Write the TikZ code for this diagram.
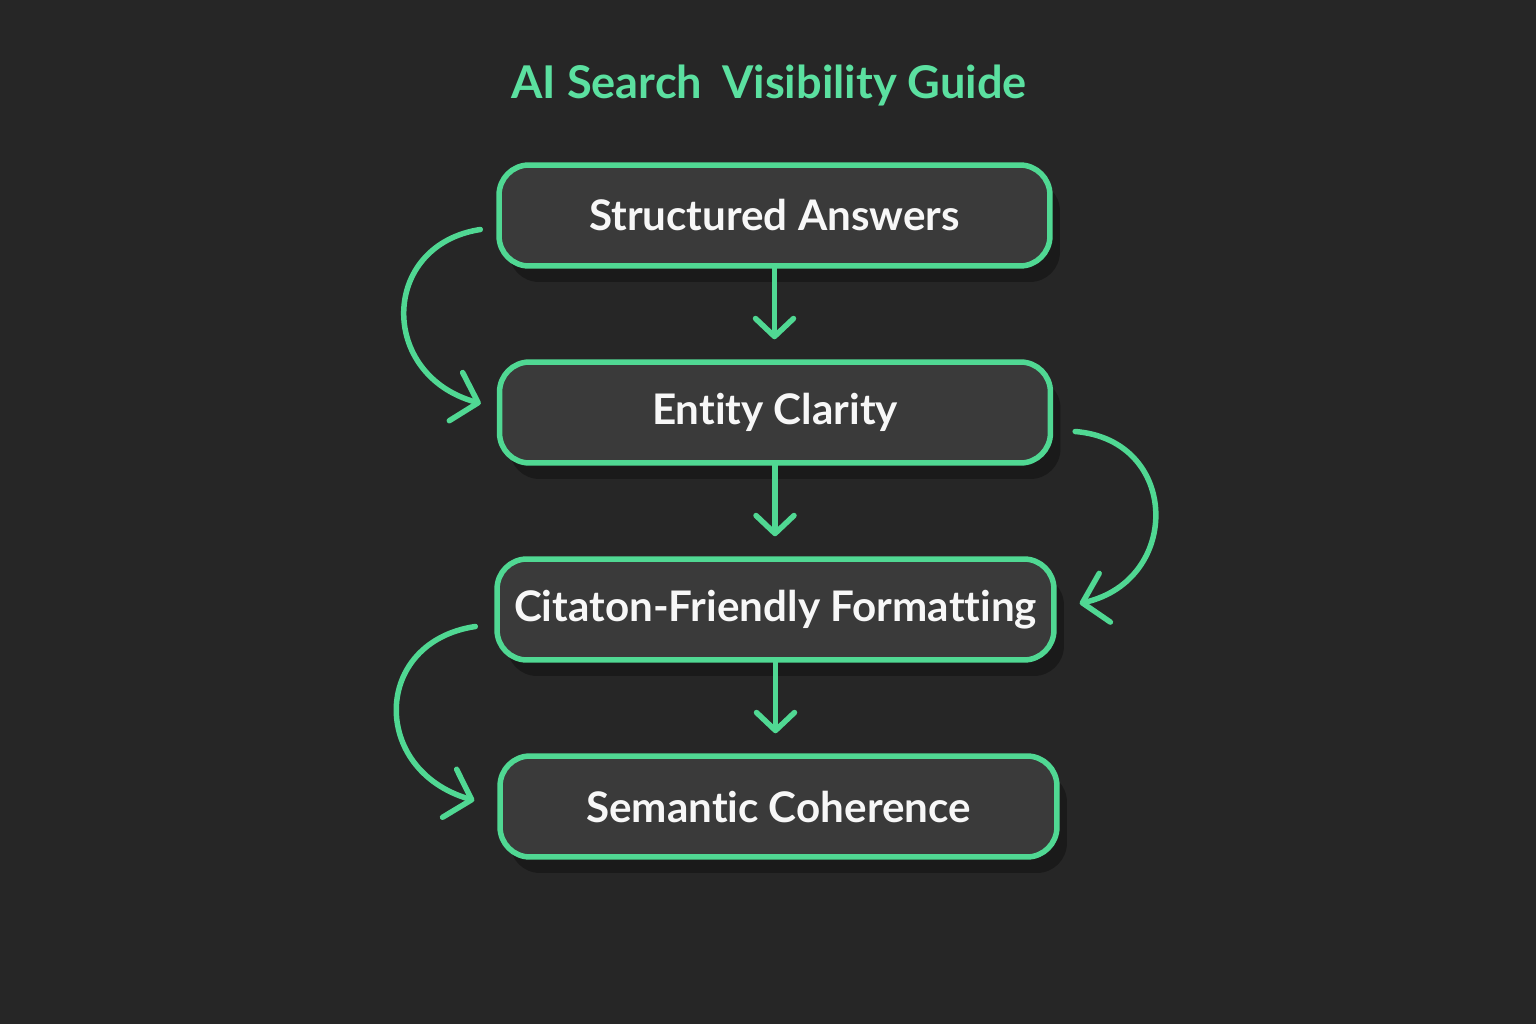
\documentclass[tikz,border=0pt]{standalone}
\usepackage{fontspec}
\setmainfont{Lato}[Ligatures=NoCommon]
\usetikzlibrary{arrows.meta,shadows}
\definecolor{bgc}{HTML}{262626}
\definecolor{boxc}{HTML}{3A3A3A}
\definecolor{grn}{HTML}{50D893}
\definecolor{ttl}{HTML}{5BE0A0}
\definecolor{txt}{HTML}{F7F7F7}
\tikzset{
  stepbox/.style={draw=grn, line width=0.11cm, fill=boxc, rounded corners=0.6cm,
    minimum width=11.02cm, minimum height=2.02cm, inner sep=0pt,
    text=txt, font=\fontsize{24}{30}\selectfont\bfseries,
    drop shadow={shadow xshift=0.2cm, shadow yshift=-0.32cm, fill=black, opacity=0.3}},
  flow/.style={draw=grn, line width=0.11cm, line cap=round,
    -{Straight Barb[length=0.36cm, width=0.76cm, line width=0.11cm, round]}},
  loop/.style={draw=grn, line width=0.11cm, line cap=round,
    -{Straight Barb[length=0.46cm, width=1.0cm, line width=0.11cm, round]}},
}
\begin{document}
\begin{tikzpicture}[x=0.02cm, y=-0.02cm]
\fill[bgc] (0,0) rectangle (1536,1024);
\useasboundingbox (0,0) rectangle (1536,1024);
\node[text=ttl, font=\fontsize{25.7}{32}\selectfont\bfseries] (title) at (769,86) {AI Search\hspace{0.2em} Visibility Guide};
\node[stepbox] (s1) at (774.5,215.5) {Structured Answers};
\node[stepbox] (s2) at (775,412.5) {Entity Clarity};
\node[stepbox, minimum width=11.14cm] (s3) at (775.5,609.5) {Citaton-Friendly Formatting};
\node[stepbox, minimum width=11.14cm] (s4) at (778.5,806.5) {Semantic Coherence};
\draw[flow, shorten >=0.4cm] (s1.south) -- (s1.south |- s2.north);
\draw[flow, shorten >=0.4cm] (s2.south) -- (s2.south |- s3.north);
\draw[flow, shorten >=0.4cm] (s3.south) -- (s3.south |- s4.north);
\coordinate (a1) at ([shift={(-16,14)}]s1.west);
\coordinate (b1) at ([shift={(-16,-9)}]s2.west);
\coordinate (a2) at ([shift={(22,19)}]s2.east);
\coordinate (b2) at ([shift={(23,-6)}]s3.east);
\coordinate (a3) at ([shift={(-19,17)}]s3.west);
\coordinate (b3) at ([shift={(-23,-6)}]s4.west);
\draw[loop] (a1) .. controls (380,245) and (378,375) .. (b1);
\draw[loop] (a2) .. controls (1180,440) and (1182,580) .. (b2);
\draw[loop] (a3) .. controls (372,642) and (370,770) .. (b3);
\end{tikzpicture}
\end{document}
